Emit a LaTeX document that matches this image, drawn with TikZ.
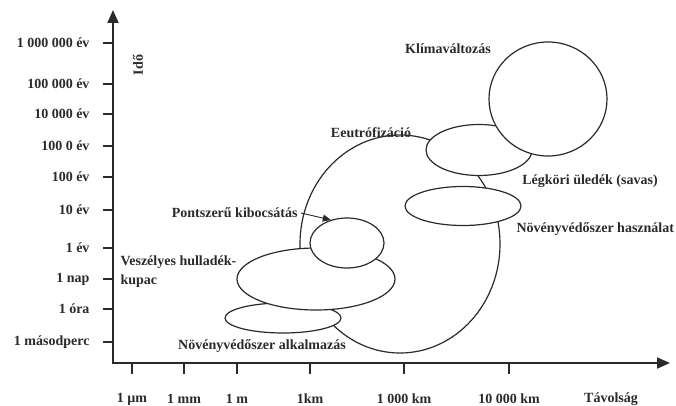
\documentclass[tikz,border=0pt]{standalone}
\usepackage{fontspec}
\setmainfont{Liberation Serif}
\usetikzlibrary{arrows.meta,shapes.geometric}
\definecolor{ink}{HTML}{2A2A2A}

\begin{document}
\begin{tikzpicture}[x=1pt,y=-1pt,>={Triangle[length=13pt,width=11pt]},
     every node/.style={font=\fontsize{14}{19}\selectfont\bfseries,text=ink},
     axis/.style={draw=ink,line width=1.8pt},
     tick/.style={draw=ink,line width=1.2pt},
     blob/.style={ellipse,draw=ink,fill=white,line width=1.2pt,inner sep=0pt}]
  \useasboundingbox (0,0) rectangle (676,406);
  % ellipses, back to front
  \node[blob,minimum width=200pt,minimum height=218pt] (eutro)  at (400,244) {};
  \node[blob,minimum width=116pt,minimum height=30pt]  (alkalm) at (283,318) {};
  \node[blob,minimum width=158pt,minimum height=62pt]  (hullad) at (316,279) {};
  \node[blob,minimum width=74pt,minimum height=50pt]   (pont)   at (347,243) {};
  \node[blob,minimum width=116pt,minimum height=39pt]  (haszn)  at (463,206) {};
  \node[blob,minimum width=106pt,minimum height=51pt]  (legkor) at (479,150) {};
  \node[blob,minimum width=118pt,minimum height=114pt] (klima)  at (548,99)  {};
  % axes
  \coordinate (ytop) at (113,10);
  \coordinate (O)    at (113,363);
  \coordinate (xend) at (670,363);
  \draw[axis,<->] (ytop) -- (O) -- (xend);
  \foreach \y/\t [count=\i] in {43/1 000 000 év,84/100 000 év,114/10 000 év,
      146/100 0 év,177/100 év,210/10 év,248/1 év,279/1 nap,309/1 óra,342/1 másodperc}
    {\draw[tick] (103,\y) -- (113,\y);
     \node[anchor=east] (ylbl\i) at (93,\y) {\t};}
  \foreach \x/\t [count=\i] in {132/1 µm,184/1 mm,237/1 m,310/1km,404/1 000 km,509/10 000 km}
    {\draw[tick] (\x,363) -- (\x,374);
     \node (xlbl\i) at (\x,399) {\t};}
  \node[rotate=90] (idolbl) at (138,65) {Idő};
  \node (tavlbl) at (611,399) {Távolság};
  % labels
  \node (klimalbl)  at (448,49)  {Klímaváltozás};
  \node (eutrolbl)  at (371,133) {Eeutrófizáció};
  \node (legkorlbl) at (590,181) {Légköri üledék (savas)};
  \node[anchor=west] (hasznlbl) at (513,229) {Növényvédőszer használat};
  \node[anchor=east] (pontlbl)  at (301,213) {Pontszerű kibocsátás};
  \node[anchor=north west,align=left] (hulladlbl) at (117,252) {Veszélyes hulladék-\\kupac};
  \node (alkalmlbl) at (262,346) {Növényvédőszer alkalmazás};
  \draw[draw=ink,line width=0.9pt,-{Triangle[length=8pt,width=7pt]}] (pontlbl.east) -- (pont.125);
\end{tikzpicture}
\end{document}
